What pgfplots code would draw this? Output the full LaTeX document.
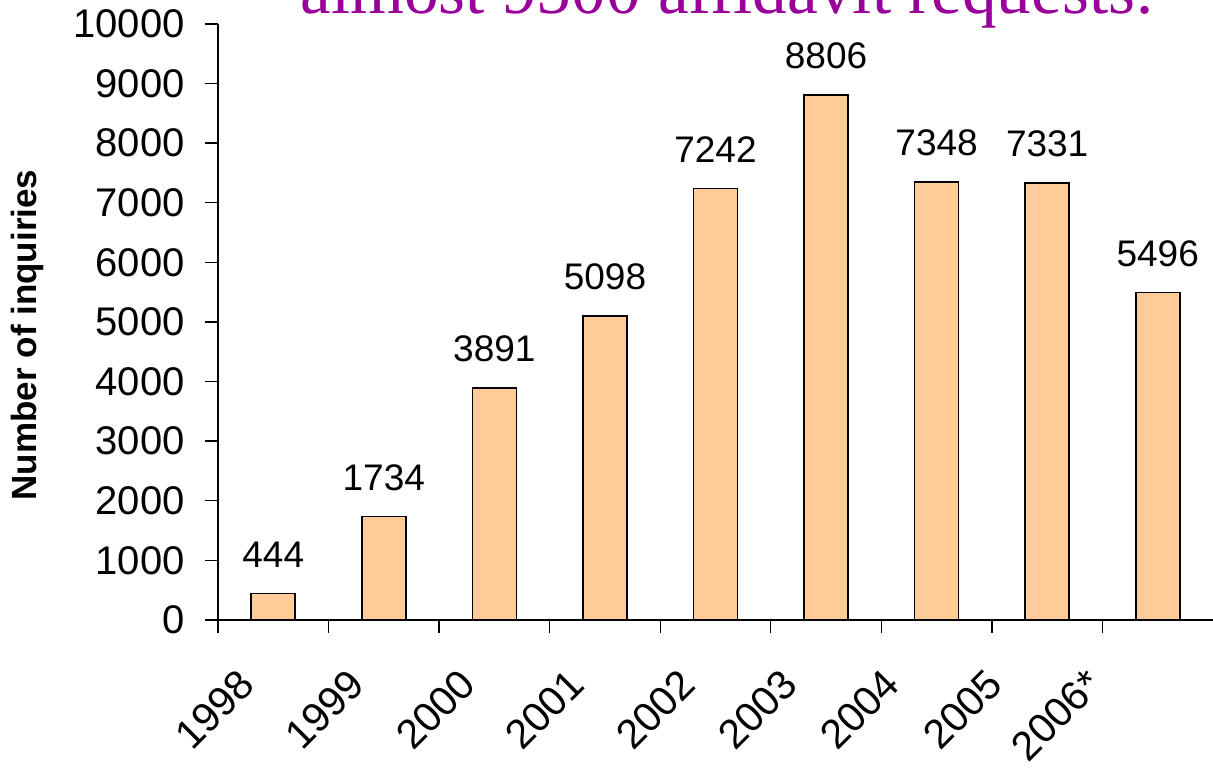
\documentclass[border=0pt]{standalone}
\usepackage{pgfplots}
\pgfplotsset{compat=1.18}
\usepackage{fontspec}
\setmainfont{Liberation Sans}
\newfontfamily\titlefont{Liberation Serif}
\definecolor{barfill}{RGB}{255,204,153}
\definecolor{titlepurple}{RGB}{153,0,153}
\pgfplotsset{/pgf/number format/1000 sep={}, /pgf/number format/assume math mode=true}

\begin{document}
\begin{tikzpicture}
\useasboundingbox (-109pt,-74.5pt) rectangle (497.5pt,310pt);
\clip (-109pt,-74.5pt) rectangle (497.5pt,310pt);
\begin{axis}[
  at={(0pt,0pt)}, anchor=south west,
  scale only axis, width=497.5pt, height=298pt,
  xmin=-0.5, xmax=8.5, ymin=0, ymax=10000,
  axis lines*=left,
  axis line style={line width=0.7pt},
  ybar, bar width=22pt, bar shift=0pt,
  xtick={-0.5,0.5,...,7.5}, xticklabels={},
  extra x ticks={-0.2376,0.758,1.762,2.749,3.753,4.676,5.60,6.532,7.43},
  extra x tick labels={1998,1999,2000,2001,2002,2003,2004,2005,2006*},
  extra x tick style={major tick length=0pt,
    tick label style={font=\fontsize{20.5}{24}\selectfont, inner sep=0pt,
      yshift=-28.5pt, rotate=45, anchor=east}},
  ytick={0,1000,...,10000},
  scaled y ticks=false,
  tick align=outside, major tick length=6.5pt,
  tick style={line width=0.7pt, black},
  y tick label style={font=\fontsize{20}{24}\selectfont, inner sep=0pt, xshift=-10pt},
  ylabel={\bfseries Number of inquiries},
  ylabel style={at={(axis description cs:-0.1915,0.4782)}, anchor=center,
    font=\fontsize{17.5}{21}\selectfont},
  nodes near coords,
  every node near coord/.append style={font=\fontsize{18.5}{22}\selectfont,
    inner sep=0pt, anchor=south, yshift=12.5pt, text=black},
]
\addplot[fill=barfill, draw=black, line width=0.8pt] coordinates {
  (0,444) (1,1734) (2,3891) (3,5098) (4,7242) (5,8806) (6,7348) (7,7331) (8,5496)};
\end{axis}
\node[anchor=base, inner sep=0pt, text=titlepurple,
  font=\titlefont\fontsize{34.6}{40}\selectfont] at (254.75pt,303pt)
  {almost 9500 affidavit requests:};
\end{tikzpicture}
\end{document}
